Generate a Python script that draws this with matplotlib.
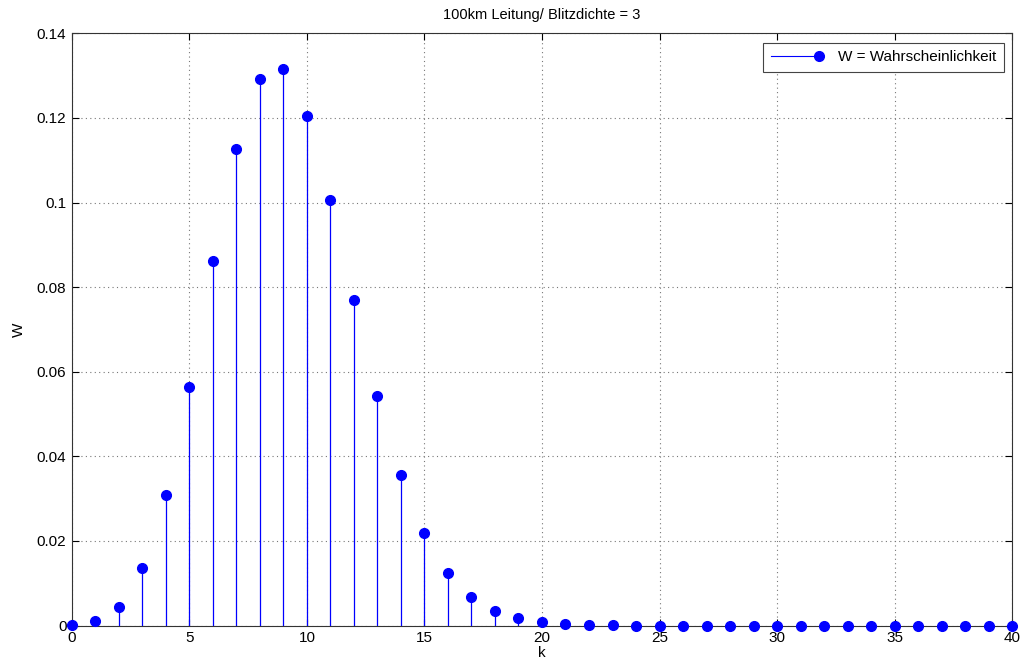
import numpy as np
import matplotlib.pyplot as plt
from matplotlib.lines import Line2D
from matplotlib.legend_handler import HandlerBase

plt.rcParams['font.family'] = ['Liberation Sans', 'DejaVu Sans']

# Wahrscheinlichkeit W fuer k Einschlaege (k = 0..40)
k = np.arange(0, 41)
W = [0.0001, 0.0011, 0.0044, 0.0136, 0.0308, 0.0564, 0.0862, 0.1127, 0.1291, 0.1316,
     0.1205, 0.1006, 0.0770, 0.0542, 0.0355, 0.0218, 0.0125, 0.0068, 0.0035, 0.0017,
     0.0009, 0.0004, 0.0002, 0.0001, 0.0, 0.0, 0.0, 0.0, 0.0, 0.0,
     0.0, 0.0, 0.0, 0.0, 0.0, 0.0, 0.0, 0.0, 0.0, 0.0, 0.0]

title = '100km Leitung/ Blitzdichte = 3'
legend_label = 'W = Wahrscheinlichkeit'


class StemHandler(HandlerBase):
    # line with the marker at its right end, like the matlab stem legend
    def create_artists(self, legend, orig_handle, xdescent, ydescent,
                       width, height, fontsize, trans):
        y = height / 2 - ydescent
        ln = Line2D([-xdescent, width - xdescent], [y, y], color='b', lw=0.8,
                    transform=trans)
        mk = Line2D([width - xdescent], [y], color='b', marker='o', ms=7,
                    linestyle='none', transform=trans)
        return [ln, mk]


fig = plt.figure(figsize=(10.21, 6.68), dpi=100)
ax = fig.add_axes([0.0705, 0.0636, 0.9207, 0.8865])

markerline, stemlines, baseline = ax.stem(k, W, linefmt='b-', markerfmt='bo', basefmt=' ')
markerline.set_markersize(7)
markerline.set_clip_on(False)
markerline.set_zorder(5)
stemlines.set_linewidth(0.9)

ax.set_xlim(0, 40)
ax.set_ylim(0, 0.14)
ax.set_xticks(np.arange(0, 41, 5))
ax.set_yticks(np.arange(0, 0.141, 0.02))
ax.set_yticklabels(['0', '0.02', '0.04', '0.06', '0.08', '0.1', '0.12', '0.14'])

ax.grid(True, color='#777777', linestyle=(0, (1, 3)), linewidth=0.8)
ax.tick_params(direction='in', top=True, right=True, labelsize=11, length=5, pad=4)
for s in ax.spines.values():
    s.set_color('#333333')
    s.set_linewidth(0.8)

ax.set_title(title, fontsize=10.5, pad=10)
ax.set_xlabel('k', fontsize=11, labelpad=1)
ax.set_ylabel('W', fontsize=11, labelpad=8)

handle = Line2D([], [], color='b')
leg = ax.legend([handle], [legend_label], handler_map={Line2D: StemHandler()},
                loc='upper right', bbox_to_anchor=(1.0, 0.9985), fontsize=11,
                fancybox=False, framealpha=1, edgecolor='#444444',
                handlelength=3.2, borderpad=0.5, handletextpad=1.2,
                borderaxespad=0.55)
leg.get_frame().set_linewidth(0.8)
leg.set_zorder(10)

fig.savefig('out.png', dpi=100)
